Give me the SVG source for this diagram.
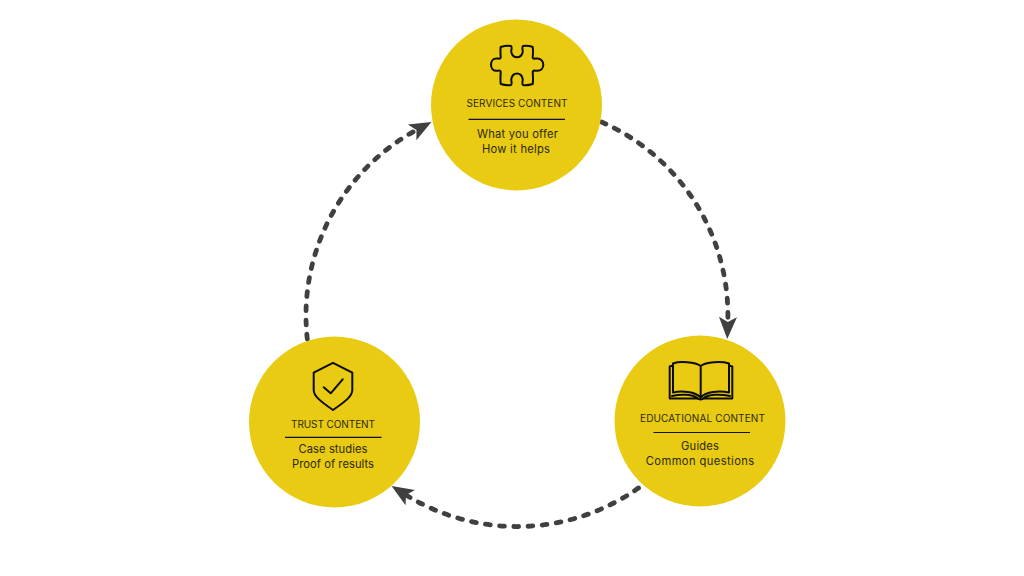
<svg xmlns="http://www.w3.org/2000/svg" width="1024" height="576" viewBox="0 0 1024 576">
<style>
.n{fill:#e8cb12}
.t{font-family:"Inter","Liberation Sans",sans-serif;fill:#2e2906;text-anchor:middle}
.h{font-size:10px}
.b{font-size:11.2px}
.r{stroke:#111;stroke-width:1.2;fill:none}
.i{stroke:#0c0c0c;stroke-width:2;fill:none;stroke-linejoin:round;stroke-linecap:round}
.c{fill:none;stroke:#404040;stroke-width:4.8;stroke-linecap:round;stroke-dasharray:4.8 9.4}
</style>
<defs>
<marker id="a" markerUnits="userSpaceOnUse" markerWidth="24" markerHeight="24" refX="5" refY="12" orient="auto">
<path d="M0 3 L22 12 L0 21 L5 12Z" fill="#404040"/>
</marker>
</defs>
<rect width="1024" height="576" fill="#fff"/>
<g id="connectors">
<path class="c" d="M601.5 122 A211 211 0 0 1 727.8 322" marker-end="url(#a)"/>
<path class="c" d="M638.5 488 A211 211 0 0 1 406 495" marker-end="url(#a)"/>
<path class="c" d="M307.3 339 A211 211 0 0 1 416.500 130" marker-end="url(#a)"/>
</g>
<g id="services">
<circle class="n" cx="516.500" cy="105" r="85.500"/>
<path class="i" d="M500.700 47 C504 46 508 45.600 511 46 C512.500 47 511 50 511.300 52 C512 55.500 514.500 57.300 517 57.300 C519.500 57.300 522 55.500 522.700 52 C523 50 521.500 47 523 46 C526 45.600 530 46 532.700 47 C533.300 50 533 54 532.700 57.500 C533 59.500 535 58.400 537.300 58.400 C541 58.400 543.300 61.500 543.300 64.700 C543.300 68 541 70.800 537.300 70.800 C535 70.800 533 69.800 532.700 71.800 C533 76 533.300 80 532.700 84 C529.500 85 526 85.400 523 85 C521.500 84 523 81 522.700 79 C522 75.500 519.500 73.500 517 73.500 C514.500 73.500 512 75.500 511.300 79 C511 81 512.500 84 511 85 C508 85.400 504 85 500.700 84 C500.200 80 500.500 76 500.700 71.800 C500.500 69.800 498.500 70.800 496.500 70.800 C493 70.800 491 68 491 64.700 C491 61.500 493 58.400 496.500 58.400 C498.500 58.400 500.500 59.500 500.700 57.500 C500.500 54 500.200 50 500.700 47Z"/>
<text class="t h" x="517" y="107" textLength="101">SERVICES CONTENT</text>
<line class="r" x1="468.500" y1="119.300" x2="565" y2="119.300"/>
<text class="t b" x="517.500" y="138" textLength="81">What you offer</text>
<text class="t b" x="516" y="153" textLength="68">How it helps</text>
</g>
<g id="educational">
<circle class="n" cx="700" cy="421" r="85.500"/>
<path class="i" d="M700.700 366 C695 362 680 361 673 363.500 L673 392.500 C682 390.500 695 391.500 700.700 397.500 C706 391.500 719 390.500 729 392.500 L729 363.500 C721 361 706 362 700.700 366Z M700.700 366 L700.700 397.500 M673 365.500 L669.700 366.500 L669.700 398.600 L697 398.600 L700.700 399.500 L704 398.600 L732.300 398.600 L732.300 366.500 L729 365.500 M672 396 C682 393.500 693 394.500 698 398.600 M730 396 C719 393.500 708 394.500 703 398.600"/>
<text class="t h" x="702.500" y="421.500" textLength="125">EDUCATIONAL CONTENT</text>
<line class="r" x1="653.500" y1="432.500" x2="750" y2="432.500"/>
<text class="t b" x="700" y="450" textLength="38">Guides</text>
<text class="t b" x="700" y="465" textLength="108.500">Common questions</text>
</g>
<g id="trust">
<circle class="n" cx="334.500" cy="422" r="85.500"/>
<path class="i" d="M333 362.800 L352.300 372.700 L352.300 390 C352.300 396 346 401 333 410 C320 401 313.700 396 313.700 390 L313.700 372.700Z"/>
<path class="i" d="M323.700 387.300 L330.700 393.300 L342.700 379.300"/>
<text class="t h" x="333" y="428" textLength="84">TRUST CONTENT</text>
<line class="r" x1="285" y1="437.300" x2="381.500" y2="437.300"/>
<text class="t b" x="333" y="453" textLength="69">Case studies</text>
<text class="t b" x="333" y="468" textLength="82">Proof of results</text>
</g>
</svg>
